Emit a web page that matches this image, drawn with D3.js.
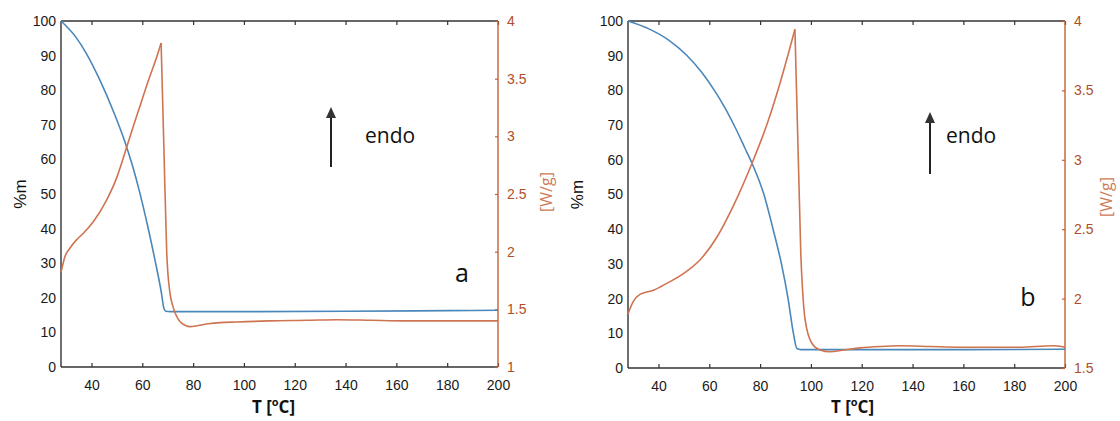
<!DOCTYPE html>
<html>
<head>
<meta charset="utf-8">
<script src="https://cdn.jsdelivr.net/npm/d3@7"></script>
<style>
  html, body { margin: 0; padding: 0; background: #fff; }
  svg { display: block; }
</style>
</head>
<body>
<svg id="chart" width="1120" height="421"></svg>
<script>
// ---------- data ----------
const xTicks = [40, 60, 80, 100, 120, 140, 160, 180, 200];
const massTicks = [0, 10, 20, 30, 40, 50, 60, 70, 80, 90, 100];
const heatTicksA = [1, 1.5, 2, 2.5, 3, 3.5, 4];
const heatTickLabelsA = ["1", "1.5", "2", "2.5", "3", "3.5", "4"];
const heatTicksB = [1.5, 2, 2.5, 3, 3.5, 4];
const heatTickLabelsB = ["1.5", "2", "2.5", "3", "3.5", "4"];

// Panel a: mass loss (%m)
const massTempA = [28, 34, 38, 43, 49, 53, 56, 59, 62, 65, 67.5, 68.5, 69.3, 71, 100, 140, 180, 200];
const massA     = [100, 95.2, 90.6, 83.4, 73.2, 65.4, 58.5, 50.4, 41.1, 30.9, 21.5, 17, 16.1, 16.0, 16.0, 16.1, 16.3, 16.4];
// Panel a: heat flow (W/g)
const heatTempA = [28, 29.6, 31.5, 34, 36.8, 40.7, 46.0, 49.9, 53.2, 56.5, 59.5, 62.5, 65.7, 67.4,
                   68.5, 69.6, 70.9, 72.0, 72.9, 74.0, 75.5, 77.0, 78.8, 82, 86, 90.6, 97.2, 110, 125, 136.5, 150, 162.6, 180, 200];
const heatA     = [1.82, 1.96, 2.03, 2.10, 2.16, 2.26, 2.45, 2.64, 2.86, 3.09, 3.29, 3.49, 3.69, 3.81,
                   2.90, 2.00, 1.64, 1.53, 1.47, 1.42, 1.38, 1.36, 1.35, 1.36, 1.375, 1.385, 1.39, 1.40, 1.405, 1.41, 1.405, 1.40, 1.40, 1.40];

// Panel b: mass loss (%m)
const massTempB = [28, 36, 44, 51, 57, 62, 66, 70, 74, 76.8, 81.5, 85.1, 88.4, 91.0, 93.1, 94.5, 96, 120, 160, 200];
const massB     = [100, 97.8, 94.5, 90.2, 85.2, 80.0, 75.2, 69.6, 63.4, 59, 50, 40, 30, 20, 10, 5.6, 5.3, 5.3, 5.3, 5.4];
// Panel b: heat flow (W/g)
const heatTempB = [28, 30.1, 32.7, 38, 43.3, 49.8, 56.4, 62.9, 69.5, 76.7, 82.6, 87.8, 93.7,
                   96.0, 97.7, 100.3, 103.6, 107.5, 113, 119.3, 127.2, 135, 146.9, 158, 169.2, 182, 195.3, 200];
const heatB     = [1.89, 1.98, 2.03, 2.06, 2.11, 2.18, 2.28, 2.44, 2.67, 2.97, 3.25, 3.55, 3.94,
                   2.33, 1.85, 1.68, 1.63, 1.617, 1.63, 1.645, 1.655, 1.66, 1.655, 1.65, 1.649, 1.65, 1.66, 1.65];

// ---------- styles ----------
const BLUE = "#4a87ba";
const ORANGE = "#cf7450";
const AXIS_DARK = "#333";
const AXIS_ORANGE = "#c2613a";
const TICK_ORANGE = "#b04e26";
const TICK_FONT = "'Liberation Sans', Arial, sans-serif";
const TEXT_FONT = "'Open Sans', 'DejaVu Sans', sans-serif";

const svg = d3.select("#chart");
svg.append("rect").attr("width", 1120).attr("height", 421).attr("fill", "#fff");

const panels = [
  { x0: 61, x1: 498, yTop: 21, yBot: 367, heatDomain: [1, 4], heatTicks: heatTicksA, heatLabels: heatTickLabelsA,
    massT: massTempA, mass: massA, heatT: heatTempA, heat: heatA,
    massLabelX: 22, heatLabelX: 548, heatLabelY: 192, xLabelDx: -6,
    letter: "a", letterX: 462, letterY: 282,
    arrowX: 331, arrowTip: 107, arrowTail: 167, endoX: 365, endoY: 143 },
  { x0: 628, x1: 1065, yTop: 21, yBot: 368, heatDomain: [1.5, 4], heatTicks: heatTicksB, heatLabels: heatTickLabelsB,
    massT: massTempB, mass: massB, heatT: heatTempB, heat: heatB,
    massLabelX: 579, heatLabelX: 1108, heatLabelY: 197, xLabelDx: 6,
    letter: "b", letterX: 1028, letterY: 306,
    arrowX: 930, arrowTip: 112, arrowTail: 174, endoX: 946, endoY: 143 }
];

panels.forEach(p => {
  const g = svg.append("g");
  const x = d3.scaleLinear().domain([28, 200]).range([p.x0, p.x1]);
  const yM = d3.scaleLinear().domain([0, 100]).range([p.yBot, p.yTop]);
  const yH = d3.scaleLinear().domain(p.heatDomain).range([p.yBot, p.yTop]);

  const bx = g.append("g").attr("transform", `translate(0,${p.yBot})`)
    .call(d3.axisBottom(x).tickValues(xTicks).tickSize(-4).tickPadding(13).tickFormat(d3.format("d")));
  const tx = g.append("g").attr("transform", `translate(0,${p.yTop})`)
    .call(d3.axisTop(x).tickValues(xTicks).tickSize(-4).tickFormat(""));
  const ly = g.append("g").attr("transform", `translate(${p.x0},0)`)
    .call(d3.axisLeft(yM).tickValues(massTicks).tickSize(0).tickPadding(5).tickFormat(d3.format("d")));
  const ry = g.append("g").attr("transform", `translate(${p.x1},0)`)
    .call(d3.axisRight(yH).tickValues(p.heatTicks).tickSize(-3).tickPadding(9)
      .tickFormat((d, i) => p.heatLabels[i]));

  [bx, tx, ly].forEach(a => {
    a.select(".domain").attr("stroke", AXIS_DARK).attr("stroke-width", 1.4);
    a.selectAll(".tick line").attr("stroke", AXIS_DARK).attr("stroke-width", 1.2);
    a.selectAll("text").attr("fill", "#1a1a1a").attr("font-family", TICK_FONT).attr("font-size", 14);
  });
  ry.select(".domain").attr("stroke", AXIS_ORANGE).attr("stroke-width", 1.4);
  ry.selectAll(".tick line").attr("stroke", AXIS_ORANGE).attr("stroke-width", 1.2);
  ry.selectAll("text").attr("fill", TICK_ORANGE).attr("font-family", TICK_FONT).attr("font-size", 14);
  tx.select(".domain").attr("d", `M${p.x0},0H${p.x1}`);
  bx.select(".domain").attr("d", `M${p.x0},0H${p.x1}`);
  ly.select(".domain").attr("d", `M0,${p.yBot}V${p.yTop}`);
  ry.select(".domain").attr("d", `M0,${p.yBot}V${p.yTop}`);

  // mass line
  const massData = p.massT.map((t, i) => [t, p.mass[i]]);
  g.append("path").datum(massData)
    .attr("d", d3.line().x(d => x(d[0])).y(d => yM(d[1])).curve(d3.curveMonotoneX))
    .attr("fill", "none").attr("stroke", BLUE).attr("stroke-width", 1.6);

  // heat line: split at the peak to keep the sharp apex
  const heatData = p.heatT.map((t, i) => [t, p.heat[i]]);
  const peak = d3.maxIndex(p.heat);
  const hl = d3.line().x(d => x(d[0])).y(d => yH(d[1])).curve(d3.curveMonotoneX);
  [heatData.slice(0, peak + 1), heatData.slice(peak)].forEach(seg => {
    g.append("path").datum(seg).attr("d", hl)
      .attr("fill", "none").attr("stroke", ORANGE).attr("stroke-width", 1.6)
      .attr("stroke-linejoin", "round");
  });

  // axis titles
  g.append("text")
    .attr("transform", `translate(${p.massLabelX},${(p.yTop + p.yBot) / 2}) rotate(-90)`)
    .attr("text-anchor", "middle").attr("dominant-baseline", "middle")
    .attr("font-family", TICK_FONT).attr("font-size", 17).attr("fill", "#111").text("%m");
  g.append("text")
    .attr("transform", `translate(${p.heatLabelX},${p.heatLabelY}) rotate(-90)`)
    .attr("text-anchor", "middle").attr("dominant-baseline", "middle")
    .attr("font-family", TEXT_FONT).attr("font-size", 16).attr("fill", "#cf7a55").text("[W/g]");
  const xl = g.append("text")
    .attr("x", (p.x0 + p.x1) / 2 + p.xLabelDx).attr("y", 413)
    .attr("text-anchor", "middle").attr("font-family", TEXT_FONT)
    .attr("font-weight", "bold").attr("font-size", 17).attr("fill", "#111");
  xl.append("tspan").text("T [");
  xl.append("tspan").attr("font-size", 11).attr("dy", -7).text("o");
  xl.append("tspan").attr("dy", 7).text("C]");

  // annotations: arrow + text
  g.append("line")
    .attr("x1", p.arrowX).attr("x2", p.arrowX)
    .attr("y1", p.arrowTail).attr("y2", p.arrowTip + 8)
    .attr("stroke", "#222").attr("stroke-width", 2);
  g.append("path")
    .attr("d", `M${p.arrowX},${p.arrowTip} L${p.arrowX - 5},${p.arrowTip + 11} L${p.arrowX + 5},${p.arrowTip + 11} Z`)
    .attr("fill", "#333");
  g.append("text").attr("x", p.endoX).attr("y", p.endoY)
    .attr("font-family", TEXT_FONT).attr("font-size", 21).attr("fill", "#111").text("endo");
  g.append("text").attr("x", p.letterX).attr("y", p.letterY)
    .attr("text-anchor", "middle")
    .attr("font-family", TEXT_FONT).attr("font-size", 25).attr("fill", "#111").text(p.letter);
});
</script>
</body>
</html>
